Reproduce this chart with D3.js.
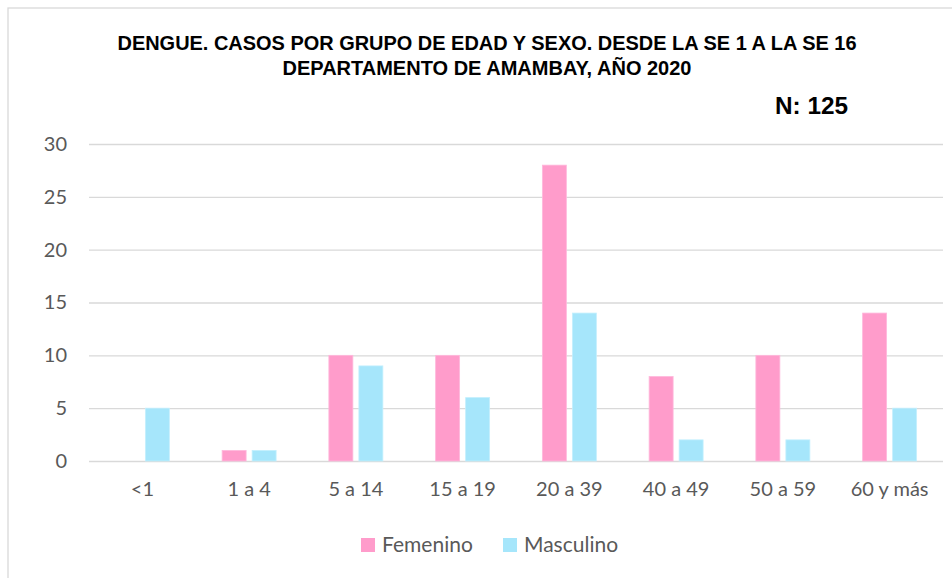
<!DOCTYPE html>
<html>
<head>
<meta charset="utf-8">
<script src="https://cdn.jsdelivr.net/npm/d3@7"></script>
<style>
  body { margin: 0; background: #fff; }
  svg { display: block; }
</style>
</head>
<body>
<div class="canvas"></div>
<script>
// data
const grupos = ["<1", "1 a 4", "5 a 14", "15 a 19", "20 a 39", "40 a 49", "50 a 59", "60 y más"];
const femenino = [0, 1, 10, 10, 28, 8, 10, 14];
const masculino = [5, 1, 9, 6, 14, 2, 2, 5];
const series = ["Femenino", "Masculino"];
const yTicks = [0, 5, 10, 15, 20, 25, 30];
const titleLines = [
  "DENGUE. CASOS POR GRUPO DE EDAD Y SEXO. DESDE LA SE 1 A LA SE 16",
  "DEPARTAMENTO DE AMAMBAY, AÑO 2020"
];
const nLabel = "N: 125";

const colors = { Femenino: "#ff9ccb", Masculino: "#a6e6fb" };
const strokes = { Femenino: "#ffb8dc", Masculino: "#c4effd" };

// dimensions
const w = 952;
const h = 578;
const plot = { left: 89, right: 943, top: 144, bottom: 461 };
const bodyFont = "Lato, 'Open Sans', sans-serif";
const titleFont = "'Liberation Sans', 'DejaVu Sans', sans-serif";

const svg = d3.select(".canvas").append("svg").attr("width", w).attr("height", h);

// chart border
svg.append("rect")
  .attr("x", 8).attr("y", 8)
  .attr("width", w + 10).attr("height", h + 10)
  .attr("fill", "none")
  .attr("stroke", "#d9d9d9")
  .attr("stroke-width", 1.3);

// title
svg.append("g")
  .selectAll("text")
  .data(titleLines)
  .join("text")
  .attr("x", 487)
  .attr("y", (d, i) => 50 + i * 25)
  .attr("text-anchor", "middle")
  .attr("font-family", titleFont)
  .attr("font-weight", "bold")
  .attr("font-size", 21)
  .attr("fill", "#000")
  .attr("textLength", (d, i) => i === 0 ? 739 : 409)
  .attr("lengthAdjust", "spacingAndGlyphs")
  .text(d => d);

svg.append("text")
  .attr("x", 848)
  .attr("y", 114)
  .attr("text-anchor", "end")
  .attr("font-family", titleFont)
  .attr("font-weight", "bold")
  .attr("font-size", 24)
  .attr("fill", "#000")
  .attr("textLength", 73)
  .attr("lengthAdjust", "spacingAndGlyphs")
  .text(nLabel);

// scales
const yScale = d3.scaleLinear().domain([0, 30]).range([plot.bottom, plot.top]);
const x0 = d3.scaleBand().domain(grupos).range([plot.left, plot.right]).padding(0);
const groupW = 54;
const x1 = d3.scaleBand().domain(series).range([0, groupW]).paddingInner(0.2).paddingOuter(0);

// gridlines
const yAxis = d3.axisLeft(yScale).tickValues(yTicks).tickSize(-(plot.right - plot.left)).tickPadding(22);
const gy = svg.append("g")
  .attr("transform", `translate(${plot.left}, 0)`)
  .call(yAxis);
gy.select(".domain").remove();
gy.selectAll(".tick line").attr("stroke", "#d9d9d9").attr("stroke-width", 1.3);
gy.selectAll(".tick text")
  .attr("font-family", bodyFont)
  .attr("font-size", 20)
  .attr("fill", "#595959");

// x axis labels
const xAxis = d3.axisBottom(x0).tickSize(0).tickPadding(21);
const gx = svg.append("g")
  .attr("transform", `translate(0, ${plot.bottom})`)
  .call(xAxis);
gx.select(".domain").remove();
gx.selectAll(".tick text")
  .attr("font-family", bodyFont)
  .attr("font-size", 20)
  .attr("fill", "#595959");

// bars
const rows = grupos.map((g, i) => ({ grupo: g, Femenino: femenino[i], Masculino: masculino[i] }));

const groups = svg.append("g")
  .selectAll("g")
  .data(rows)
  .join("g")
  .attr("transform", d => `translate(${x0(d.grupo) + x0.bandwidth() / 2 - groupW / 2}, 0)`);

groups.selectAll("rect")
  .data(d => series.map(s => ({ key: s, value: d[s] })).filter(d => d.value > 0))
  .join("rect")
  .attr("x", d => x1(d.key))
  .attr("y", d => yScale(d.value))
  .attr("width", x1.bandwidth())
  .attr("height", d => yScale(0) - yScale(d.value))
  .attr("fill", d => colors[d.key])
  .attr("stroke", d => strokes[d.key])
  .attr("stroke-width", 0.8);

// legend
const legendX = [361, 503];
const legend = svg.append("g")
  .selectAll("g")
  .data(series)
  .join("g")
  .attr("transform", (d, i) => `translate(${legendX[i]}, 538)`);

legend.append("rect")
  .attr("width", 14)
  .attr("height", 14)
  .attr("fill", d => colors[d]);

legend.append("text")
  .attr("x", 21)
  .attr("y", 14)
  .attr("font-family", bodyFont)
  .attr("font-size", 21)
  .attr("fill", "#595959")
  .text(d => d);
</script>
</body>
</html>
